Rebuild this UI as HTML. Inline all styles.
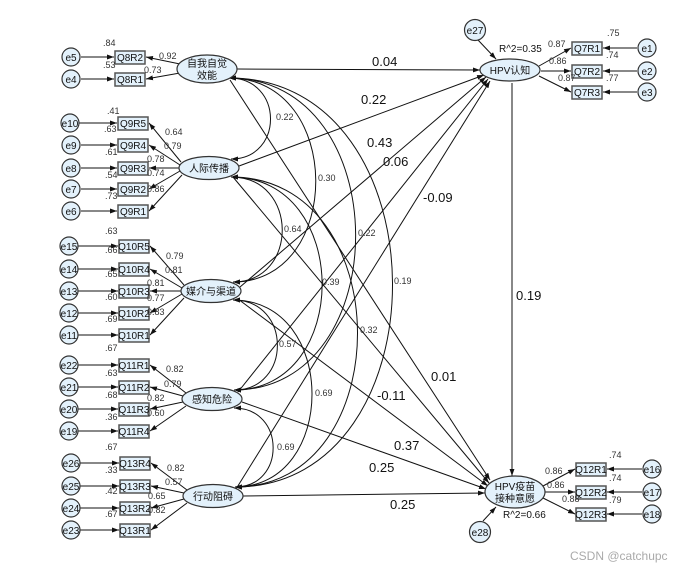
<!DOCTYPE html>
<html><head><meta charset="utf-8"><style>
body{margin:0;background:#fff}
svg{display:block;font-family:"Liberation Sans","Noto Sans CJK SC",sans-serif}
.s{font-size:9px;fill:#333}
.b{font-size:13px;fill:#111}
.e{font-size:10px;fill:#111}
</style></head><body>
<svg width="692" height="573" viewBox="0 0 692 573" xmlns="http://www.w3.org/2000/svg">
<defs>
<marker id="a" viewBox="0 0 10 10" refX="10" refY="5" markerWidth="7" markerHeight="7" orient="auto-start-reverse"><path d="M0,1.5 L10,5 L0,8.5 z" fill="#111"/></marker>
</defs>
<g stroke="#111" stroke-width="1" fill="none">
<!-- correlations -->
<path d="M229,78 C284,78 284,159 231,159" marker-start="url(#a)" marker-end="url(#a)"/>
<path d="M229,78 C344,78 344,282 233,282" marker-start="url(#a)" marker-end="url(#a)"/>
<path d="M229,78 C397,78 397,390 234,390" marker-start="url(#a)" marker-end="url(#a)"/>
<path d="M229,78 C446,78 446,487 235,487" marker-start="url(#a)" marker-end="url(#a)"/>
<path d="M231,177 C299,177 299,282 233,282" marker-start="url(#a)" marker-end="url(#a)"/>
<path d="M231,177 C352,177 352,390 234,390" marker-start="url(#a)" marker-end="url(#a)"/>
<path d="M231,177 C399,177 399,487 235,487" marker-start="url(#a)" marker-end="url(#a)"/>
<path d="M233,300 C292,300 292,390 234,390" marker-start="url(#a)" marker-end="url(#a)"/>
<path d="M233,300 C338,300 338,487 235,487" marker-start="url(#a)" marker-end="url(#a)"/>
<path d="M234,408 C286,408 286,487 235,487" marker-start="url(#a)" marker-end="url(#a)"/>
<!-- structural -->
<line x1="237" y1="69" x2="480" y2="70" marker-end="url(#a)"/>
<line x1="239" y1="166" x2="484" y2="75" marker-end="url(#a)"/>
<line x1="240" y1="287" x2="486" y2="77" marker-end="url(#a)"/>
<line x1="238" y1="392" x2="488" y2="79" marker-end="url(#a)"/>
<line x1="236" y1="489" x2="490" y2="81" marker-end="url(#a)"/>
<line x1="230" y1="80" x2="490" y2="480" marker-end="url(#a)"/>
<line x1="233" y1="177" x2="489" y2="483" marker-end="url(#a)"/>
<line x1="238" y1="299" x2="488" y2="486" marker-end="url(#a)"/>
<line x1="242" y1="402" x2="486" y2="489" marker-end="url(#a)"/>
<line x1="243" y1="496" x2="485" y2="493" marker-end="url(#a)"/>
<line x1="512" y1="83" x2="512" y2="476" marker-end="url(#a)"/>
<line x1="478" y1="40" x2="496" y2="59" marker-end="url(#a)"/>
<line x1="483" y1="521" x2="496" y2="507" marker-end="url(#a)"/>
<!-- measurement left -->
<line x1="180" y1="64" x2="146" y2="57" marker-end="url(#a)"/>
<line x1="180" y1="73" x2="146" y2="79" marker-end="url(#a)"/>
<line x1="181" y1="162" x2="149" y2="123" marker-end="url(#a)"/>
<line x1="180" y1="165" x2="149" y2="145" marker-end="url(#a)"/>
<line x1="179" y1="168" x2="149" y2="168" marker-end="url(#a)"/>
<line x1="180" y1="171" x2="149" y2="189" marker-end="url(#a)"/>
<line x1="182" y1="175" x2="149" y2="211" marker-end="url(#a)"/>
<line x1="184" y1="285" x2="150" y2="246" marker-end="url(#a)"/>
<line x1="182" y1="288" x2="150" y2="269" marker-end="url(#a)"/>
<line x1="181" y1="291" x2="150" y2="291" marker-end="url(#a)"/>
<line x1="182" y1="294" x2="150" y2="313" marker-end="url(#a)"/>
<line x1="184" y1="298" x2="150" y2="335" marker-end="url(#a)"/>
<line x1="186" y1="393" x2="150" y2="365" marker-end="url(#a)"/>
<line x1="183" y1="396" x2="150" y2="387" marker-end="url(#a)"/>
<line x1="183" y1="402" x2="150" y2="409" marker-end="url(#a)"/>
<line x1="186" y1="406" x2="150" y2="431" marker-end="url(#a)"/>
<line x1="187" y1="490" x2="151" y2="463" marker-end="url(#a)"/>
<line x1="184" y1="493" x2="151" y2="486" marker-end="url(#a)"/>
<line x1="184" y1="499" x2="151" y2="508" marker-end="url(#a)"/>
<line x1="187" y1="503" x2="151" y2="530" marker-end="url(#a)"/>
<!-- error arrows left -->
<line x1="81" y1="57" x2="114" y2="57" marker-end="url(#a)"/>
<line x1="81" y1="79" x2="114" y2="79" marker-end="url(#a)"/>
<line x1="79" y1="123" x2="117" y2="123" marker-end="url(#a)"/>
<line x1="81" y1="145" x2="117" y2="145" marker-end="url(#a)"/>
<line x1="81" y1="168" x2="117" y2="168" marker-end="url(#a)"/>
<line x1="81" y1="189" x2="117" y2="189" marker-end="url(#a)"/>
<line x1="81" y1="211" x2="117" y2="211" marker-end="url(#a)"/>
<g>
<line x1="78" y1="246" x2="118" y2="246" marker-end="url(#a)"/>
<line x1="78" y1="269" x2="118" y2="269" marker-end="url(#a)"/>
<line x1="78" y1="291" x2="118" y2="291" marker-end="url(#a)"/>
<line x1="78" y1="313" x2="118" y2="313" marker-end="url(#a)"/>
<line x1="78" y1="335" x2="118" y2="335" marker-end="url(#a)"/>
<line x1="78" y1="365" x2="118" y2="365" marker-end="url(#a)"/>
<line x1="78" y1="387" x2="118" y2="387" marker-end="url(#a)"/>
<line x1="78" y1="409" x2="118" y2="409" marker-end="url(#a)"/>
<line x1="78" y1="431" x2="118" y2="431" marker-end="url(#a)"/>
<line x1="80" y1="463" x2="119" y2="463" marker-end="url(#a)"/>
<line x1="80" y1="486" x2="119" y2="486" marker-end="url(#a)"/>
<line x1="80" y1="508" x2="119" y2="508" marker-end="url(#a)"/>
<line x1="80" y1="530" x2="119" y2="530" marker-end="url(#a)"/>
</g>
<!-- right measurement -->
<line x1="539" y1="66" x2="571" y2="48" marker-end="url(#a)"/>
<line x1="541" y1="71" x2="571" y2="71" marker-end="url(#a)"/>
<line x1="539" y1="76" x2="571" y2="92" marker-end="url(#a)"/>
<line x1="637" y1="48" x2="603" y2="48" marker-end="url(#a)"/>
<line x1="637" y1="71" x2="603" y2="71" marker-end="url(#a)"/>
<line x1="637" y1="92" x2="603" y2="92" marker-end="url(#a)"/>
<line x1="543" y1="486" x2="575" y2="469" marker-end="url(#a)"/>
<line x1="545" y1="492" x2="575" y2="492" marker-end="url(#a)"/>
<line x1="543" y1="498" x2="575" y2="514" marker-end="url(#a)"/>
<line x1="642" y1="469" x2="607" y2="469" marker-end="url(#a)"/>
<line x1="642" y1="492" x2="607" y2="492" marker-end="url(#a)"/>
<line x1="642" y1="514" x2="607" y2="514" marker-end="url(#a)"/>
</g>
<!-- shapes -->
<g fill="#e3f1fb" stroke="#333" stroke-width="1.2">
<ellipse cx="207" cy="69" rx="30" ry="14"/>
<ellipse cx="209" cy="168" rx="30" ry="11.5"/>
<ellipse cx="211" cy="291" rx="30" ry="11.5"/>
<ellipse cx="212" cy="399" rx="30" ry="11.5"/>
<ellipse cx="213" cy="496" rx="30" ry="11.5"/>
<ellipse cx="510" cy="70" rx="30" ry="11"/>
<ellipse cx="515" cy="492" rx="30" ry="16"/>
<circle cx="475" cy="30" r="10.5"/>
<circle cx="480" cy="532" r="10.5"/>
<circle cx="647" cy="48" r="9"/><circle cx="647" cy="71" r="9"/><circle cx="647" cy="92" r="9"/>
<circle cx="652" cy="469" r="9"/><circle cx="652" cy="492" r="9"/><circle cx="652" cy="514" r="9"/>
<circle cx="71" cy="57" r="9"/><circle cx="71" cy="79" r="9"/>
<circle cx="70" cy="123" r="9"/><circle cx="71" cy="145" r="9"/><circle cx="71" cy="168" r="9"/><circle cx="71" cy="189" r="9"/><circle cx="71" cy="211" r="9"/>
<circle cx="69" cy="246" r="9"/><circle cx="69" cy="269" r="9"/><circle cx="69" cy="291" r="9"/><circle cx="69" cy="313" r="9"/><circle cx="69" cy="335" r="9"/>
<circle cx="69" cy="365" r="9"/><circle cx="69" cy="387" r="9"/><circle cx="69" cy="409" r="9"/><circle cx="69" cy="431" r="9"/>
<circle cx="71" cy="463" r="9"/><circle cx="71" cy="486" r="9"/><circle cx="71" cy="508" r="9"/><circle cx="71" cy="530" r="9"/>
</g>
<g fill="#e3f1fb" stroke="#555" stroke-width="1.5">
<rect x="115" y="51" width="30" height="13"/><rect x="115" y="73" width="30" height="13"/>
<rect x="118" y="117" width="30" height="13"/><rect x="118" y="139" width="30" height="13"/><rect x="118" y="162" width="30" height="13"/><rect x="118" y="183" width="30" height="13"/><rect x="118" y="205" width="30" height="13"/>
<rect x="119" y="240" width="30" height="13"/><rect x="119" y="263" width="30" height="13"/><rect x="119" y="285" width="30" height="13"/><rect x="119" y="307" width="30" height="13"/><rect x="119" y="329" width="30" height="13"/>
<rect x="119" y="359" width="30" height="13"/><rect x="119" y="381" width="30" height="13"/><rect x="119" y="403" width="30" height="13"/><rect x="119" y="425" width="30" height="13"/>
<rect x="120" y="457" width="30" height="13"/><rect x="120" y="480" width="30" height="13"/><rect x="120" y="502" width="30" height="13"/><rect x="120" y="524" width="30" height="13"/>
<rect x="572" y="42" width="30" height="13"/><rect x="572" y="65" width="30" height="13"/><rect x="572" y="86" width="30" height="13"/>
<rect x="576" y="463" width="30" height="13"/><rect x="576" y="486" width="30" height="13"/><rect x="576" y="508" width="30" height="13"/>
</g>
<!-- texts -->
<g class="e" text-anchor="middle">
<text x="207" y="67">自我自觉</text><text x="207" y="79">效能</text>
<text x="209" y="172">人际传播</text>
<text x="211" y="295">媒介与渠道</text>
<text x="212" y="403">感知危险</text>
<text x="213" y="500">行动阻碍</text>
<text x="510" y="74">HPV认知</text>
<text x="515" y="490">HPV疫苗</text><text x="515" y="502">接种意愿</text>
<text x="475" y="34">e27</text><text x="480" y="536">e28</text>
<text x="647" y="52">e1</text><text x="647" y="75">e2</text><text x="647" y="96">e3</text>
<text x="652" y="473">e16</text><text x="652" y="496">e17</text><text x="652" y="518">e18</text>
<text x="71" y="61">e5</text><text x="71" y="83">e4</text>
<text x="70" y="127">e10</text><text x="71" y="149">e9</text><text x="71" y="172">e8</text><text x="71" y="193">e7</text><text x="71" y="215">e6</text>
<text x="69" y="250">e15</text><text x="69" y="273">e14</text><text x="69" y="295">e13</text><text x="69" y="317">e12</text><text x="69" y="339">e11</text>
<text x="69" y="369">e22</text><text x="69" y="391">e21</text><text x="69" y="413">e20</text><text x="69" y="435">e19</text>
<text x="71" y="467">e26</text><text x="71" y="490">e25</text><text x="71" y="512">e24</text><text x="71" y="534">e23</text>
<text x="130" y="61">Q8R2</text><text x="130" y="83">Q8R1</text>
<text x="133" y="127">Q9R5</text><text x="133" y="149">Q9R4</text><text x="133" y="172">Q9R3</text><text x="133" y="193">Q9R2</text><text x="133" y="215">Q9R1</text>
<text x="134" y="250">Q10R5</text><text x="134" y="273">Q10R4</text><text x="134" y="295">Q10R3</text><text x="134" y="317">Q10R2</text><text x="134" y="339">Q10R1</text>
<text x="134" y="369">Q11R1</text><text x="134" y="391">Q11R2</text><text x="134" y="413">Q11R3</text><text x="134" y="435">Q11R4</text>
<text x="135" y="467">Q13R4</text><text x="135" y="490">Q13R3</text><text x="135" y="512">Q13R2</text><text x="135" y="534">Q13R1</text>
<text x="587" y="52">Q7R1</text><text x="587" y="75">Q7R2</text><text x="587" y="96">Q7R3</text>
<text x="591" y="473">Q12R1</text><text x="591" y="496">Q12R2</text><text x="591" y="518">Q12R3</text>
</g>
<g class="s">
<text x="103" y="46">.84</text><text x="159" y="59">0.92</text><text x="103" y="68">.53</text><text x="144" y="73">0.73</text>
<text x="107" y="114">.41</text><text x="104" y="132">.63</text><text x="105" y="155">.61</text><text x="105" y="178">.54</text><text x="105" y="199">.73</text>
<text x="165" y="135">0.64</text><text x="164" y="149">0.79</text><text x="147" y="162">0.78</text><text x="147" y="176">0.74</text><text x="147" y="192">0.86</text>
<text x="105" y="234">.63</text><text x="105" y="253">.66</text><text x="105" y="277">.65</text><text x="105" y="300">.60</text><text x="105" y="322">.69</text><text x="105" y="351">.67</text>
<text x="166" y="259">0.79</text><text x="165" y="273">0.81</text><text x="147" y="286">0.81</text><text x="147" y="301">0.77</text><text x="147" y="315">0.83</text>
<text x="105" y="376">.63</text><text x="105" y="398">.68</text><text x="105" y="420">.36</text><text x="105" y="450">.67</text>
<text x="166" y="372">0.82</text><text x="164" y="387">0.79</text><text x="147" y="401">0.82</text><text x="147" y="416">0.60</text>
<text x="105" y="473">.33</text><text x="105" y="494">.42</text><text x="105" y="517">.67</text>
<text x="167" y="471">0.82</text><text x="165" y="485">0.57</text><text x="148" y="499">0.65</text><text x="148" y="513">0.82</text>
<text x="276" y="120">0.22</text><text x="318" y="181">0.30</text><text x="284" y="232">0.64</text><text x="358" y="236">0.22</text>
<text x="394" y="284">0.19</text><text x="322" y="285">0.39</text><text x="360" y="333">0.32</text><text x="279" y="347">0.57</text>
<text x="315" y="396">0.69</text><text x="277" y="450">0.69</text>
<text x="607" y="36">.75</text><text x="606" y="58">.74</text><text x="606" y="81">.77</text>
<text x="548" y="47">0.87</text><text x="549" y="64">0.86</text><text x="558" y="81">0.87</text>
<text x="609" y="458">.74</text><text x="609" y="481">.74</text><text x="609" y="503">.79</text>
<text x="545" y="474">0.86</text><text x="547" y="488">0.86</text><text x="562" y="502">0.88</text>
</g>
<g style="font-size:10px;fill:#111">
<text x="499" y="52">R^2=0.35</text><text x="503" y="518">R^2=0.66</text>
</g>
<g class="b">
<text x="372" y="66">0.04</text><text x="361" y="104">0.22</text><text x="367" y="147">0.43</text><text x="383" y="166">0.06</text>
<text x="423" y="202">-0.09</text><text x="516" y="300">0.19</text><text x="431" y="381">0.01</text><text x="377" y="400">-0.11</text>
<text x="394" y="450">0.37</text><text x="369" y="472">0.25</text><text x="390" y="509">0.25</text>
</g>
<text x="570" y="560" style="font-size:12px;fill:#aaa">CSDN @catchupc</text>
</svg>
</body></html>
